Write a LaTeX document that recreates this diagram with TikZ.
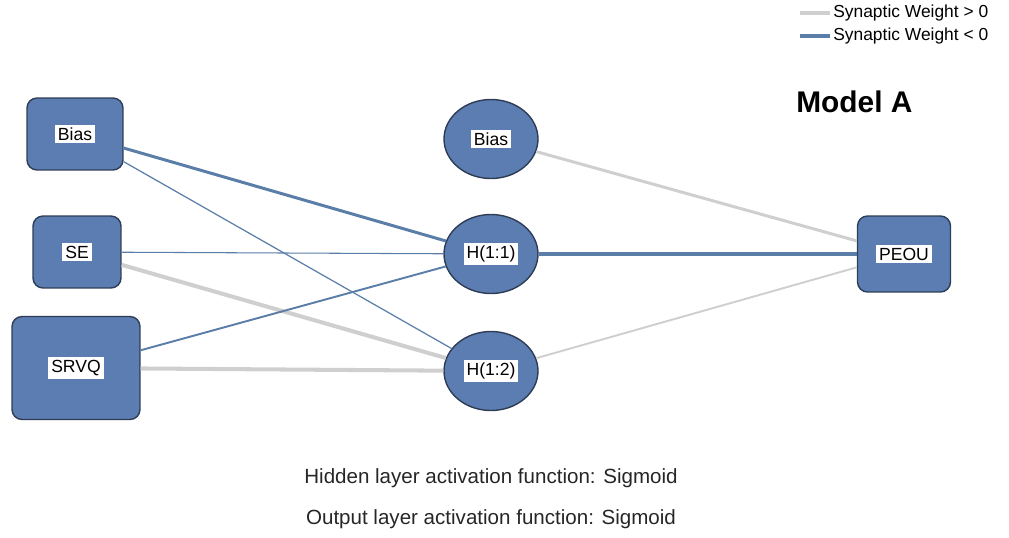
\documentclass[tikz,border=0pt]{standalone}
\usepackage{fontspec}
\setmainfont{Liberation Sans}
\usetikzlibrary{shapes.geometric}

\definecolor{nodeblue}{HTML}{5B7DB1}
\definecolor{nodeedge}{HTML}{2E3D55}
\definecolor{negblue}{HTML}{5A7EA8}
\definecolor{posgray}{HTML}{CFCFCF}

\newcommand{\labbox}[1]{{\setlength{\fboxsep}{1.6pt}\colorbox{white}{#1}}}

\begin{document}
\begin{tikzpicture}[x=0.02cm,y=-0.02cm]
    \tikzset{
      inbox/.style={draw=nodeedge, fill=nodeblue, rounded corners=0.2cm, line width=0.8pt, inner sep=0pt, font=\fontsize{10}{11}\selectfont},
      hidnode/.style={ellipse, draw=nodeedge, fill=nodeblue, line width=0.8pt, inner sep=0pt, minimum width=1.88cm, minimum height=1.58cm, font=\fontsize{10}{11}\selectfont},
      poswt/.style={draw=posgray},
      negwt/.style={draw=negblue},
      note/.style={font=\fontsize{11.7}{13}\selectfont, text=black!85}
    }
    \useasboundingbox (0,0) rectangle (1009,538);

    %input layer
    \node[inbox, minimum width=1.92cm, minimum height=1.44cm] (in_bias) at (75,134) {\labbox{Bias}};
    \node[inbox, minimum width=1.76cm, minimum height=1.44cm] (in_se) at (77,252) {\labbox{SE}};
    \node[inbox, minimum width=2.56cm, minimum height=2.06cm] (in_srvq) at (76,368) {\labbox{SRVQ}};

    %hidden layer
    \node[hidnode] (h_bias) at (491,139) {\labbox{Bias}};
    \node[hidnode] (h_one) at (491,254) {\labbox{H(1:1)}};
    \node[hidnode] (h_two) at (491,371) {\labbox{H(1:2)}};

    %output layer
    \node[inbox, minimum width=1.86cm, minimum height=1.52cm] (out_peou) at (904,254) {\labbox{PEOU}};

    %weights
    \draw[negwt, line width=1.7pt] (in_bias) -- (h_one);
    \draw[negwt, line width=0.7pt] (in_bias) -- (h_two);
    \draw[negwt, line width=0.6pt] (in_se) -- (h_one);
    \draw[poswt, line width=2.3pt] (in_se) -- (h_two);
    \draw[negwt, line width=1.1pt] (in_srvq) -- (h_one);
    \draw[poswt, line width=2.3pt] (in_srvq) -- (h_two);

    \draw[poswt, line width=1.7pt] (h_bias) -- (out_peou);
    \draw[negwt, line width=2.8pt] (h_one) -- (out_peou);
    \draw[poswt, line width=1.1pt] (h_two) -- (out_peou);

    %legend
    \coordinate (lg_pos) at (800,13);
    \coordinate (lg_neg) at (800,36);
    \node[anchor=west, inner sep=0pt, font=\fontsize{9.9}{11}\selectfont] (lg_pos_txt) at (833,13) {Synaptic Weight > 0};
    \node[anchor=west, inner sep=0pt, font=\fontsize{9.9}{11}\selectfont] (lg_neg_txt) at (833,36) {Synaptic Weight < 0};
    \draw[poswt, line width=2.2pt, shorten >=0.06cm] (lg_pos) -- (lg_pos_txt.west);
    \draw[negwt, line width=2.2pt, shorten >=0.06cm] (lg_neg) -- (lg_neg_txt.west);

    \node[font=\fontsize{17}{20}\selectfont\bfseries, anchor=west, inner sep=0pt] (title) at (796,102) {Model A};

    %activation functions
    \node[note] (hid_fn) at (491,478) {Hidden layer activation function: Sigmoid};
    \node[note] (out_fn) at (491,519) {Output layer activation function: Sigmoid};
\end{tikzpicture}
\end{document}
